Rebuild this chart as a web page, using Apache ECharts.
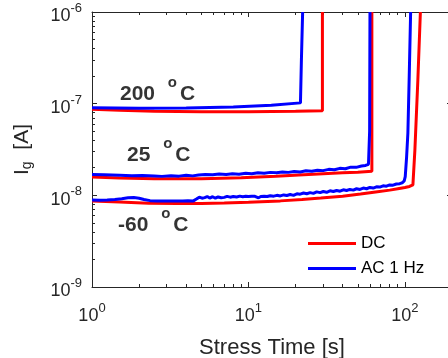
<!DOCTYPE html>
<html>
<head>
<meta charset="utf-8">
<script src="https://cdn.jsdelivr.net/npm/echarts@6/dist/echarts.min.js"></script>
<style>
  html, body { margin: 0; padding: 0; background: #ffffff; }
  #chart { width: 448px; height: 358px; }
</style>
</head>
<body>
<div id="chart"></div>
<script>
// Gate current vs. stress time, DC and AC (1 Hz) stress at three temperatures.
const xMajor = [1, 10, 100];
const yMajor = [1e-9, 1e-8, 1e-7, 1e-6];

// [stress time (s), gate current (A)]
const dc200 = [
  [1.0, 8.7e-8], [1.5, 8.45e-8], [2.5, 8.25e-8], [5.0, 8.15e-8], [10.0, 8.15e-8],
  [20.0, 8.25e-8], [29.7, 8.35e-8], [29.7, 1e-6]
];
const ac200 = [
  [1.0, 9.0e-8], [2.0, 8.9e-8], [4.0, 8.95e-8], [8.0, 9.2e-8], [14.0, 9.6e-8],
  [21.5, 1.02e-7], [21.8, 3.0e-7], [22.2, 1e-6]
];
const dc25 = [
  [1.0, 1.585e-8], [1.5, 1.55e-8], [2.5, 1.52e-8], [5.0, 1.52e-8], [9.0, 1.56e-8],
  [15.0, 1.62e-8], [21.0, 1.67e-8], [30.0, 1.72e-8], [40.0, 1.76e-8], [50.0, 1.79e-8],
  [61.5, 1.83e-8], [61.5, 1e-6]
];
const ac25 = [
  [1.0, 1.69e-8], [1.2, 1.68e-8], [1.5, 1.66e-8], [1.8, 1.64e-8], [2.1, 1.65e-8],
  [2.5, 1.63e-8], [2.8, 1.61e-8], [3.2, 1.64e-8], [3.6, 1.62e-8], [4.0, 1.66e-8],
  [4.4, 1.63e-8], [4.8, 1.67e-8], [5.3, 1.69e-8], [5.9, 1.68e-8], [6.5, 1.71e-8],
  [7.2, 1.69e-8], [7.9, 1.72e-8], [8.7, 1.70e-8], [9.6, 1.74e-8], [10.5, 1.72e-8],
  [11.5, 1.76e-8], [12.6, 1.74e-8], [13.8, 1.78e-8], [15.1, 1.76e-8], [16.5, 1.80e-8],
  [18.0, 1.78e-8], [19.6, 1.82e-8], [21.4, 1.80e-8], [23.3, 1.85e-8], [25.4, 1.83e-8],
  [27.6, 1.88e-8], [30.0, 1.86e-8], [32.6, 1.92e-8], [35.4, 1.90e-8], [38.4, 1.97e-8],
  [41.6, 1.95e-8], [45.1, 2.03e-8], [48.8, 2.02e-8], [52.8, 2.09e-8], [56.0, 2.12e-8],
  [58.5, 2.18e-8], [59.3, 2.2e-8], [59.5, 5e-8], [59.8, 1e-6]
];
const dcM60 = [
  [1.0, 8.68e-9], [1.5, 8.46e-9], [2.3, 8.2e-9], [3.5, 8.12e-9], [5.0, 8.15e-9],
  [7.0, 8.25e-9], [10.0, 8.4e-9], [16.0, 8.7e-9], [22.0, 9.0e-9], [29.0, 9.35e-9],
  [40.0, 9.8e-9], [52.0, 1.035e-8], [65.0, 1.09e-8], [80.0, 1.14e-8], [92.0, 1.19e-8],
  [100.0, 1.22e-8], [107.0, 1.25e-8], [112.5, 1.3e-8], [115.8, 3.1e-8], [121.0, 1.81e-7],
  [125.6, 1e-6]
];
const acM60 = [
  [1.00, 8.9e-9], [1.12, 8.85e-9], [1.25, 8.9e-9], [1.40, 9.0e-9], [1.55, 9.2e-9],
  [1.70, 9.4e-9], [1.85, 9.45e-9], [2.00, 9.3e-9], [2.15, 9.0e-9], [2.35, 8.75e-9],
  [2.60, 8.68e-9], [2.90, 8.65e-9], [3.20, 8.7e-9], [3.50, 8.66e-9], [3.80, 8.7e-9],
  [4.10, 8.72e-9], [4.45, 8.7e-9], [4.65, 9.1e-9], [4.85, 9.55e-9], [5.05, 9.3e-9],
  [5.25, 9.45e-9], [5.45, 9.7e-9], [5.65, 9.35e-9], [5.90, 9.65e-9], [6.15, 9.3e-9],
  [6.40, 9.6e-9], [6.70, 9.4e-9], [7.00, 9.5e-9], [7.30, 9.75e-9], [7.65, 9.55e-9],
  [8.00, 9.7e-9], [8.40, 9.6e-9], [8.80, 9.8e-9], [9.20, 9.65e-9], [9.60, 9.75e-9],
  [10.0, 9.7e-9], [10.5, 9.8e-9], [11.0, 9.75e-9], [11.3, 1.0e-8], [11.6, 9.4e-9],
  [12.0, 9.7e-9], [12.6, 9.8e-9], [13.2, 9.7e-9], [13.8, 9.9e-9], [14.5, 9.8e-9],
  [15.2, 1.0e-8], [16.0, 9.85e-9], [16.8, 1.01e-8], [17.6, 9.95e-9], [18.5, 1.02e-8],
  [19.4, 1.0e-8], [20.4, 1.04e-8], [21.4, 1.03e-8], [22.5, 1.06e-8], [23.6, 1.04e-8],
  [24.8, 1.07e-8], [26.0, 1.05e-8], [27.3, 1.09e-8], [28.7, 1.07e-8], [30.1, 1.10e-8],
  [31.6, 1.08e-8], [33.2, 1.12e-8], [34.9, 1.10e-8], [36.6, 1.13e-8], [38.5, 1.11e-8],
  [40.4, 1.15e-8], [42.4, 1.13e-8], [44.5, 1.16e-8], [46.8, 1.14e-8], [49.1, 1.18e-8],
  [51.6, 1.16e-8], [54.2, 1.20e-8], [56.9, 1.18e-8], [59.7, 1.22e-8], [62.7, 1.20e-8],
  [65.8, 1.24e-8], [69.1, 1.23e-8], [72.6, 1.27e-8], [76.2, 1.26e-8], [80.0, 1.30e-8],
  [84.0, 1.29e-8], [88.2, 1.33e-8], [92.6, 1.34e-8], [96.0, 1.37e-8], [99.0, 1.44e-8],
  [100.5, 1.6e-8], [102.5, 2.6e-8], [104.5, 4.8e-8], [106.5, 1.9e-7], [108.8, 1e-6]
];

// Temperature annotations and where they sit, in data coordinates
const tempText = ['200', '25', '-60'];
const tempAnchor = [[1.51, 1.275e-7], [1.673, 2.754e-8], [1.466, 4.75e-9]];

const seriesNames = ['DC', 'AC 1 Hz'];
const RED = '#ff0000';
const BLUE = '#0000ff';
const INK = '#262626';
const FONT = '"Liberation Sans", Arial, Helvetica, sans-serif';

const X_MIN = 1, X_MAX = 200, Y_MIN = 1e-9, Y_MAX = 1e-6;

// 2..9 x 10^k between lo and hi
function minorValues(lo, hi) {
  const out = [];
  for (let d = Math.floor(Math.log10(lo)); d <= Math.ceil(Math.log10(hi)); d++) {
    for (let k = 2; k <= 9; k++) {
      const v = parseFloat((k * Math.pow(10, d)).toPrecision(6));
      if (v > lo && v < hi) out.push(v);
    }
  }
  return out;
}

// "10" with the exponent raised as a superscript
const powLabel = v => '{b|10}{s|' + Math.round(Math.log10(v)) + '}';
const powRich = {
  b: { fontSize: 18, fontFamily: FONT, color: INK, padding: [9, 0, 0, 0] },
  s: { fontSize: 13, fontFamily: FONT, color: INK, padding: [0, 0, 7, 0] }
};

const lineStyle = { color: INK, width: 1 };

function frameAxis(position, min, max, ticks, tickLen, withLine) {
  return {
    type: 'log', logBase: 10, min, max, position,
    axisLine: { show: withLine, onZero: false, lineStyle },
    axisTick: { show: true, inside: true, length: tickLen, customValues: ticks, lineStyle },
    axisLabel: { show: false },
    splitLine: { show: false },
    minorTick: { show: false }
  };
}

const xAxes = [
  Object.assign(frameAxis('bottom', X_MIN, X_MAX, xMajor, 5, true), {
    axisLabel: { show: true, customValues: xMajor, formatter: powLabel, rich: powRich, margin: 11 },
    name: 'Stress Time [s]', nameLocation: 'middle', nameGap: 50,
    nameTextStyle: { fontSize: 22, fontFamily: FONT, color: INK }
  }),
  frameAxis('bottom', X_MIN, X_MAX, minorValues(X_MIN, X_MAX), 3, false),
  frameAxis('top', X_MIN, X_MAX, xMajor, 5, true),
  frameAxis('top', X_MIN, X_MAX, minorValues(X_MIN, X_MAX), 3, false)
];

const yAxes = [
  Object.assign(frameAxis('left', Y_MIN, Y_MAX, yMajor, 5, true), {
    axisLabel: { show: true, customValues: yMajor, formatter: powLabel, rich: powRich, margin: 10 },
    name: '{a|I}{g|g}{a|  [A]}', nameLocation: 'middle', nameGap: 58,
    nameTextStyle: {
      color: INK,
      rich: {
        a: { fontSize: 21, fontFamily: FONT, color: INK },
        g: { fontSize: 14, fontFamily: FONT, color: INK, padding: [9, 0, 0, 0] }
      }
    }
  }),
  frameAxis('left', Y_MIN, Y_MAX, minorValues(Y_MIN, Y_MAX), 3, false),
  frameAxis('right', Y_MIN, Y_MAX, yMajor, 5, true),
  frameAxis('right', Y_MIN, Y_MAX, minorValues(Y_MIN, Y_MAX), 3, false)
];

function curve(name, data, color) {
  return {
    type: 'line', name, data,
    symbol: 'none', showSymbol: false,
    lineStyle: { color, width: 3 },
    itemStyle: { color },
    clip: true,
    silent: true
  };
}

const chart = echarts.init(document.getElementById('chart'), null, { renderer: 'canvas' });
chart.setOption({
  animation: false,
  backgroundColor: '#ffffff',
  // the plot box runs a few pixels past the right edge of the canvas
  grid: { left: 92, top: 12, width: 360, height: 275, containLabel: false, outerBoundsMode: 'none' },
  legend: {
    data: seriesNames,
    orient: 'vertical',
    left: 308, top: 235, padding: 0,
    icon: 'rect',
    itemWidth: 48, itemHeight: 3, itemGap: 8,
    textStyle: { fontSize: 17, fontFamily: FONT, color: '#000000' }
  },
  xAxis: xAxes,
  yAxis: yAxes,
  series: [
    curve(seriesNames[0], dc200, RED),
    curve(seriesNames[0], dc25, RED),
    curve(seriesNames[0], dcM60, RED),
    curve(seriesNames[1], ac200, BLUE),
    curve(seriesNames[1], ac25, BLUE),
    curve(seriesNames[1], acM60, BLUE),
    {
      type: 'scatter', name: 'temperature', silent: true,
      symbolSize: 0,
      data: tempAnchor.map((p, i) => ({
        value: p,
        label: { formatter: '{n|' + tempText[i] + ' }{o|o}{n|C}' }
      })),
      label: {
        show: true, position: [0, 0], align: 'left', verticalAlign: 'middle',
        rich: {
          n: { fontSize: 21, fontWeight: 'bold', fontFamily: FONT, color: '#000000' },
          o: { fontSize: 15, fontWeight: 'bold', fontFamily: FONT, color: '#000000', padding: [0, 3, 22, 7] }
        }
      },
      z: 5
    }
  ]
});
</script>
</body>
</html>
